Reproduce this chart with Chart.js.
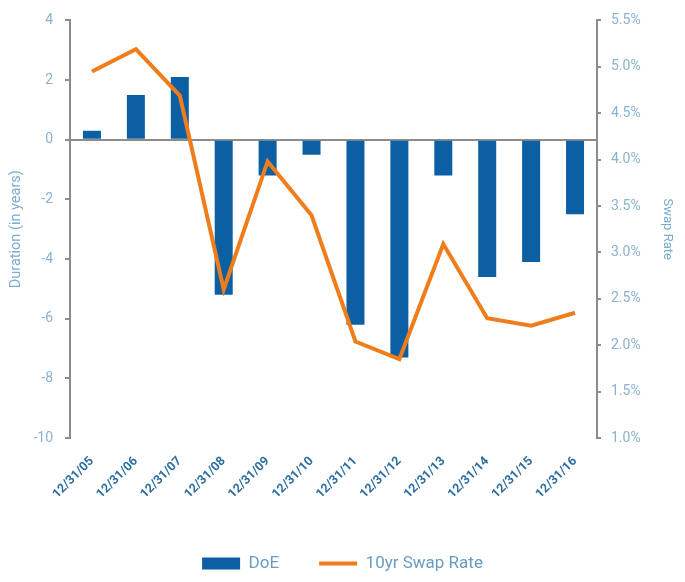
<!DOCTYPE html>
<html>
<head>
<meta charset="utf-8">
<script src="https://cdn.jsdelivr.net/npm/chart.js@4"></script>
<style>
  html, body { margin: 0; padding: 0; background: #fff; }
  #wrap { width: 685px; height: 582px; position: relative; }
</style>
</head>
<body>
<div id="wrap"><canvas id="durChart"></canvas></div>
<script>
// --- DATA ---
const dates = ['12/31/05', '12/31/06', '12/31/07', '12/31/08', '12/31/09', '12/31/10',
               '12/31/11', '12/31/12', '12/31/13', '12/31/14', '12/31/15', '12/31/16'];
const doeValues = [0.3, 1.5, 2.1, -5.2, -1.2, -0.5, -6.2, -7.3, -1.2, -4.6, -4.1, -2.5];
const swapRates = [4.95, 5.19, 4.69, 2.6, 3.98, 3.4, 2.04, 1.85, 3.09, 2.29, 2.21, 2.35];

const barBlue = '#0b5fa3';
const swapOrange = '#f07d1c';
const axisGrey = '#8c8c8c';
const tickBlue = '#8ab3cf';
const titleBlue = '#78acd0';

const ctx = document.getElementById('durChart').getContext('2d');

new Chart(ctx, {
    data: {
        labels: dates,
        datasets: [
            {
                type: 'line',
                label: '10yr Swap Rate',
                data: swapRates,
                yAxisID: 'yRate',
                borderColor: swapOrange,
                backgroundColor: swapOrange,
                borderWidth: 4,
                pointRadius: 0,
                tension: 0,
                pointStyle: 'line',
                order: 0
            },
            {
                type: 'bar',
                label: 'DoE',
                data: doeValues,
                yAxisID: 'yDur',
                backgroundColor: barBlue,
                borderWidth: 0,
                barPercentage: 0.41,
                categoryPercentage: 1,
                pointStyle: 'rect',
                order: 1
            }
        ]
    },
    options: {
        responsive: true,
        maintainAspectRatio: false,
        animation: false,
        layout: { padding: { top: 16, left: 0, right: 0, bottom: 0 } },
        scales: {
            x: {
                grid: { display: false },
                border: { display: false },
                ticks: {
                    color: '#2d6e9f',
                    font: { family: 'Roboto', size: 12.5, weight: 'bold' },
                    minRotation: 45,
                    maxRotation: 45,
                    padding: 8
                },
                afterFit: scale => { scale.height = 77; }
            },
            yDur: {
                position: 'left',
                min: -10,
                max: 4,
                border: { display: true, color: axisGrey, width: 2 },
                grid: {
                    color: c => (c.tick && c.tick.value === 0) ? axisGrey : 'rgba(0,0,0,0)',
                    lineWidth: 2,
                    tickColor: axisGrey,
                    tickLength: 5
                },
                ticks: {
                    stepSize: 2,
                    color: tickBlue,
                    padding: 12,
                    font: { family: 'Roboto', size: 14 }
                },
                title: {
                    display: true,
                    text: 'Duration (in years)',
                    color: titleBlue,
                    font: { family: 'Roboto', size: 14.5 },
                    padding: { top: 8, bottom: 0 }
                },
                afterFit: scale => { scale.width = 70; }
            },
            yRate: {
                position: 'right',
                min: 1.0,
                max: 5.5,
                border: { display: true, color: axisGrey, width: 2 },
                grid: {
                    drawOnChartArea: false,
                    tickColor: axisGrey,
                    tickLength: 4,
                    lineWidth: 2
                },
                ticks: {
                    stepSize: 0.5,
                    color: tickBlue,
                    padding: 10,
                    font: { family: 'Roboto', size: 14 },
                    callback: v => v.toFixed(1) + '%'
                },
                title: {
                    display: true,
                    text: 'Swap Rate',
                    color: titleBlue,
                    font: { family: 'Roboto', size: 13 },
                    padding: { top: 10, bottom: 0 }
                },
                afterFit: scale => { scale.width = 88; }
            }
        },
        plugins: {
            legend: {
                position: 'bottom',
                reverse: true,
                labels: {
                    usePointStyle: true,
                    pointStyleWidth: 38,
                    boxHeight: 12,
                    color: '#6a9cc2',
                    padding: 40,
                    font: { family: 'Roboto', size: 17 }
                }
            },
            tooltip: { enabled: false }
        }
    }
});
</script>
</body>
</html>
